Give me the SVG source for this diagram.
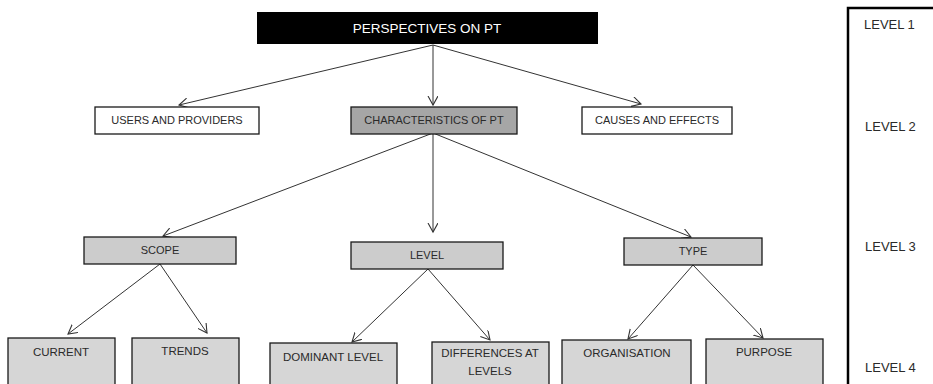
<svg xmlns="http://www.w3.org/2000/svg" width="933" height="384" viewBox="0 0 933 384">
<style>
text{font-family:"Liberation Sans",Arial,sans-serif;fill:#2a2a2a;text-anchor:middle}
.box{stroke:#1a1a1a;stroke-width:1.3}
.white{fill:#ffffff}
.dark{fill:#a6a6a6}
.mid{fill:#cccccc}
.light{fill:#d6d6d6}
.t2{font-size:11px}
.t4{font-size:11.5px}
.conn line{stroke:#333;stroke-width:1;marker-end:url(#ah)}
.lv{font-size:13px;text-anchor:start}
</style>
<defs>
<marker id="ah" markerUnits="userSpaceOnUse" markerWidth="14" markerHeight="14" refX="9" refY="5" orient="auto">
<path d="M0,0 L9,5 L0,10" fill="none" stroke="#333" stroke-width="1.1"/>
</marker>
</defs>
<rect width="933" height="384" fill="#ffffff"/>

<g class="conn">
<line x1="433" y1="45" x2="179" y2="105"/>
<line x1="433" y1="45" x2="433" y2="105"/>
<line x1="433" y1="45" x2="641" y2="104"/>
<line x1="433" y1="133" x2="163" y2="236"/>
<line x1="433" y1="133" x2="433" y2="232"/>
<line x1="433" y1="133" x2="691" y2="237"/>
<line x1="160" y1="264" x2="68" y2="334"/>
<line x1="160" y1="264" x2="207" y2="333"/>
<line x1="428" y1="269" x2="352" y2="342"/>
<line x1="428" y1="269" x2="490" y2="340"/>
<line x1="693" y1="265" x2="628" y2="339"/>
<line x1="693" y1="265" x2="763" y2="338"/>
</g>

<g id="perspectives">
<rect x="257" y="12" width="341" height="32" fill="#000"/>
<text x="427" y="33" style="fill:#ffffff;font-size:13.5px">PERSPECTIVES ON PT</text>
</g>

<g id="users">
<rect class="box white" x="95" y="107" width="164" height="27"/>
<text class="t2" x="177" y="124">USERS AND PROVIDERS</text>
</g>
<g id="characteristics">
<rect class="box dark" x="351" y="107" width="166" height="27"/>
<text class="t2" x="434" y="124">CHARACTERISTICS  OF PT</text>
</g>
<g id="causes">
<rect class="box white" x="582" y="107" width="150" height="27"/>
<text class="t2" x="657" y="124">CAUSES AND EFFECTS</text>
</g>

<g id="scope">
<rect class="box mid" x="84" y="237" width="152" height="27"/>
<text class="t2" x="160" y="254">SCOPE</text>
</g>
<g id="level">
<rect class="box mid" x="351" y="242" width="152" height="27"/>
<text class="t2" x="427" y="259">LEVEL</text>
</g>
<g id="type">
<rect class="box mid" x="624" y="238" width="138" height="27"/>
<text class="t2" x="693" y="255">TYPE</text>
</g>

<g id="current">
<rect class="box light" x="8" y="338" width="107" height="50"/>
<text class="t4" x="61" y="356">CURRENT</text>
</g>
<g id="trends">
<rect class="box light" x="132" y="338" width="107" height="50"/>
<text class="t4" x="185" y="355">TRENDS</text>
</g>
<g id="dominant">
<rect class="box light" x="270" y="343" width="127" height="45"/>
<text class="t4" x="333" y="361">DOMINANT  LEVEL</text>
</g>
<g id="differences">
<rect class="box light" x="432" y="342" width="117" height="46"/>
<text class="t4" x="490" y="357">DIFFERENCES  AT</text>
<text class="t4" x="490" y="375">LEVELS</text>
</g>
<g id="organisation">
<rect class="box light" x="562" y="340" width="129" height="48"/>
<text class="t4" x="627" y="357">ORGANISATION</text>
</g>
<g id="purpose">
<rect class="box light" x="706" y="339" width="117" height="49"/>
<text class="t4" x="764" y="356">PURPOSE</text>
</g>

<g id="levels">
<path d="M848,388 L848,8 L933,8" fill="none" stroke="#000" stroke-width="2.5"/>
<text class="lv" x="864" y="29">LEVEL  1</text>
<text class="lv" x="865" y="131">LEVEL 2</text>
<text class="lv" x="865" y="251">LEVEL 3</text>
<text class="lv" x="865" y="372">LEVEL 4</text>
</g>
</svg>
